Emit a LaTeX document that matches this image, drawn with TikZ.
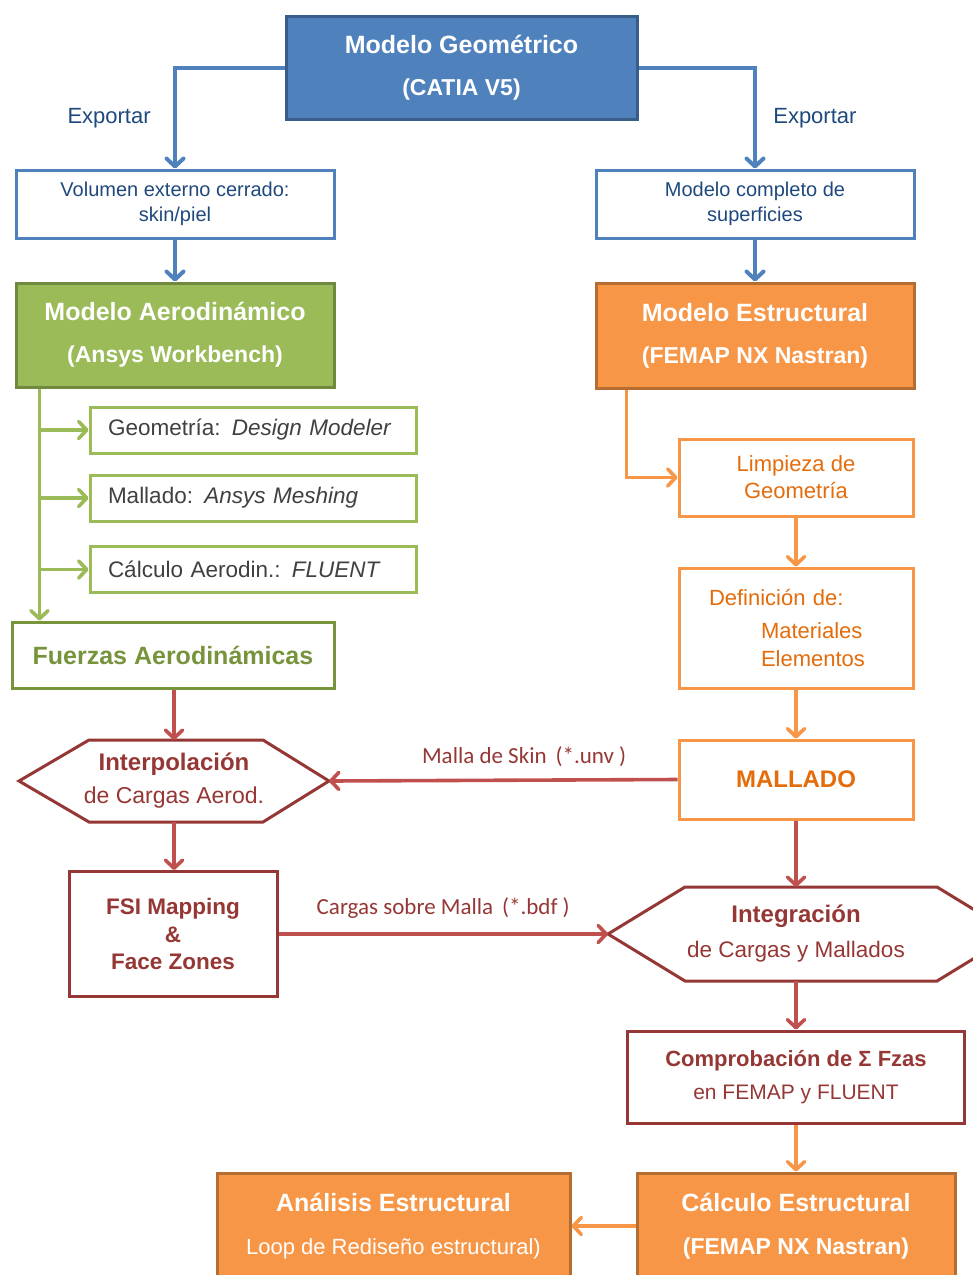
\documentclass[tikz,border=0pt]{standalone}
\usepackage{fontspec}
\setmainfont{Liberation Sans}
\newfontfamily\calibrifont{Carlito}
\usepackage{tikz}
\usetikzlibrary{positioning, arrows.meta, calc}
\definecolor{azulFill}{HTML}{4F81BD}
\definecolor{azulBorde}{HTML}{385D8A}
\definecolor{azulTexto}{HTML}{1F497D}
\definecolor{verdeFill}{HTML}{9BBB59}
\definecolor{verdeBorde}{HTML}{71893F}
\definecolor{verdeOscuro}{HTML}{77933C}
\definecolor{naranjaFill}{HTML}{F79646}
\definecolor{naranjaBorde}{HTML}{B66D31}
\definecolor{naranjaTexto}{HTML}{E46C0A}
\definecolor{rojoBorde}{HTML}{953735}
\definecolor{rojoFlecha}{HTML}{C0504D}
\definecolor{grisTexto}{HTML}{404040}
\newcommand\titfont{\fontsize{25}{28}\selectfont\bfseries}
\newcommand\subtitfont{\fontsize{23}{28}\selectfont\bfseries}
\newcommand\subnormfont{\fontsize{22}{28}\selectfont\mdseries}

\begin{document}
\begin{tikzpicture}[
  x=1pt, y=-1pt,
  >={Straight Barb[round, length=8pt, width=17pt]},
  bluelink/.style={->, draw=azulFill, line width=4pt},
  greenlink/.style={->, draw=verdeFill, line width=3.6pt},
  orangelink/.style={->, draw=naranjaFill, line width=3.6pt},
  redlink/.style={->, draw=rojoFlecha, line width=3.6pt},
  headbox/.style={line width=3pt, text=white, align=center,
                  minimum width=318pt, minimum height=104pt, font=\titfont},
  bluebox/.style={draw=azulFill, fill=white, line width=3pt, text=azulTexto,
                  align=center, minimum width=318pt, minimum height=68pt,
                  font=\fontsize{20}{25}\selectfont},
  toolbox/.style={draw=verdeFill, fill=white, line width=3pt, text=grisTexto,
                  minimum height=46pt, text width=290pt, inner xsep=18pt,
                  align=left, font=\fontsize{22.5}{26}\selectfont},
  stepbox/.style={draw=naranjaFill, fill=white, line width=3pt, text=naranjaTexto,
                  minimum width=234pt, align=center,
                  font=\fontsize{22}{27}\selectfont},
  redbox/.style={draw=rojoBorde, fill=white, line width=3pt, text=rojoBorde,
                 align=center, font=\fontsize{22}{28}\selectfont},
  hexnode/.style={outer sep=0pt, text=rojoBorde, align=center,
                  font=\fontsize{23}{28}\selectfont},
  hexline/.style={draw=rojoBorde, fill=white, line width=3pt, line join=miter},
  exportlabel/.style={text=azulTexto, font=\fontsize{22}{26}\selectfont},
  linklabel/.style={text=rojoBorde, font=\calibrifont\fontsize{23}{26}\selectfont}
]
  \clip (0,0) rectangle (973,1275);

  % cabecera
  \node[headbox, draw=azulBorde, fill=azulFill, minimum width=351pt, minimum height=103pt]
    (geom) at (461.5,67.5) {Modelo Geométrico\\[14pt]{\subtitfont (CATIA V5)}};
  \node[bluebox] (volumen) at (175,204) {Volumen externo cerrado:\\skin/piel};
  \node[bluebox] (superf)  at (755,204) {Modelo completo de\\superficies};
  \node[headbox, draw=verdeBorde, fill=verdeFill]
    (aero) at (175,335) {Modelo Aerodinámico\\[14pt]{\subtitfont (Ansys Workbench)}};
  \node[headbox, draw=naranjaBorde, fill=naranjaFill, minimum height=105pt]
    (estruct) at (755,335.5) {Modelo Estructural\\[14pt]{\subtitfont (FEMAP NX Nastran)}};

  % rama aerodinamica
  \node[toolbox] (designmod) at (253,430)   {Geometría: \textit{Design Modeler}};
  \node[toolbox] (meshing)   at (253,498)   {Mallado: \textit{Ansys Meshing}};
  \node[toolbox] (fluent)    at (253,569.5) {Cálculo Aerodin.: \textit{FLUENT}};
  \node[draw=verdeOscuro, fill=white, line width=3pt, text=verdeOscuro,
        minimum width=322pt, minimum height=66pt, font=\titfont]
    (fuerzas) at (173,655) {Fuerzas Aerodinámicas};

  % rama estructural
  \node[stepbox, minimum height=77pt] (limpieza) at (796,477.5) {Limpieza de\\Geometría};
  \node[stepbox, minimum height=120pt, text width=174pt, inner xsep=30pt, align=left,
        font=\fontsize{22}{28}\selectfont]
    (definic) at (796,628) {Definición de:\\[5pt]\hspace*{52pt}Materiales\\\hspace*{52pt}Elementos};
  \node[stepbox, minimum height=79pt, font=\fontsize{24}{28}\selectfont\bfseries]
    (mallado) at (796,779.5) {MALLADO};

  % interpolacion e integracion
  \node[hexnode, minimum width=310pt, minimum height=82pt]
    (interp) at (174,781) {};
  \draw[hexline] (interp.west) -- ([xshift=70pt]interp.north west)
    -- ([xshift=-66pt]interp.north east) -- (interp.east)
    -- ([xshift=-66pt]interp.south east) -- ([xshift=70pt]interp.south west) -- cycle;
  \node[hexnode] at (interp.center)
    {{\fontsize{24}{28}\selectfont\bfseries Interpolación}\\[5pt]de Cargas Aerod.};

  \node[redbox, minimum width=208pt, minimum height=125pt,
        font=\fontsize{22.5}{27.5}\selectfont\bfseries]
    (fsi) at (173,934) {FSI Mapping\\\&\\Face Zones};

  \node[hexnode, minimum width=376pt, minimum height=94pt]
    (integ) at (796,934) {};
  \draw[hexline] (integ.west) -- ([xshift=77pt]integ.north west)
    -- ([xshift=-47pt]integ.north east) -- ([xshift=30pt]integ.east)
    -- ([xshift=-47pt]integ.south east) -- ([xshift=77pt]integ.south west) -- cycle;
  \node[hexnode, font=\fontsize{22.5}{28}\selectfont] at (integ.center)
    {{\fontsize{24}{28}\selectfont\bfseries Integración}\\[7pt]de Cargas y Mallados};

  \node[redbox, minimum width=337pt, minimum height=92pt]
    (comprob) at (796,1077) {\textbf{Comprobación de Σ Fzas}\\[5pt]{\fontsize{21}{28}\selectfont en FEMAP y FLUENT}};

  % calculo final
  \node[headbox, draw=naranjaBorde, fill=naranjaFill, minimum height=106pt]
    (calculo) at (796,1226) {Cálculo Estructural\\[15pt]{\subtitfont (FEMAP NX Nastran)}};
  \node[headbox, draw=naranjaBorde, fill=naranjaFill, minimum width=353pt, minimum height=106pt]
    (analisis) at (393.5,1226) {Análisis Estructural\\[15pt]{\subnormfont Loop de Rediseño estructural)}};

  % conexiones
  \draw[bluelink] (geom.west) -| node[exportlabel, pos=0.75, left=19pt] {Exportar} (volumen.north);
  \draw[bluelink] (geom.east) -| node[exportlabel, pos=0.75, right=13pt] {Exportar} (superf.north);
  \draw[bluelink] (volumen) -- (aero);
  \draw[bluelink] (superf) -- (estruct);

  \coordinate (trunk) at ([xshift=25pt]aero.south west);
  \draw[greenlink] (trunk) -- (trunk |- fuerzas.north);
  \draw[greenlink] (trunk |- designmod.west) -- (designmod.west);
  \draw[greenlink] (trunk |- meshing.west) -- (meshing.west);
  \draw[greenlink] (trunk |- fluent.west) -- (fluent.west);

  \draw[orangelink] ([xshift=32pt]estruct.south west) |- (limpieza.west);
  \draw[orangelink] (limpieza) -- (definic);
  \draw[orangelink] (definic) -- (mallado);

  \draw[redlink] (fuerzas.south -| interp.north) -- (interp.north);
  \draw[redlink] (mallado.west) -- node[linklabel, pos=0.44, above=8pt] {Malla de Skin \,(*.unv )} (interp.east);
  \draw[redlink] (interp.south) -- (interp.south |- fsi.north);
  \draw[redlink] (fsi.east) -- node[linklabel, pos=0.5, above=10pt] {Cargas sobre Malla \,(*.bdf )} (integ.west);
  \draw[redlink] (mallado) -- (integ.north);
  \draw[redlink] (integ.south) -- (comprob);
  \draw[orangelink] (comprob) -- (calculo);
  \draw[orangelink] (calculo) -- (analisis);
\end{tikzpicture}
\end{document}
